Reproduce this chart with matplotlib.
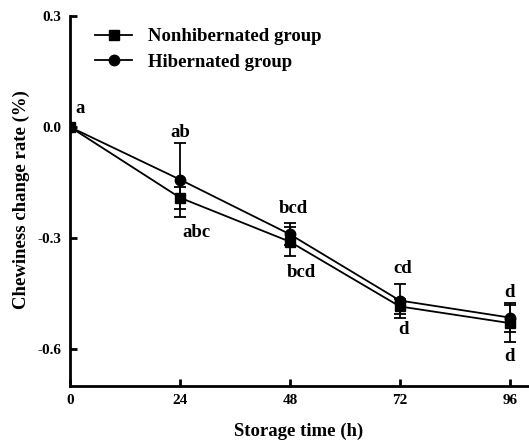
import matplotlib
matplotlib.use("Agg")
import matplotlib.pyplot as plt
from matplotlib.lines import Line2D

plt.rcParams['font.family'] = ['Liberation Serif', 'DejaVu Serif']
plt.rcParams['font.weight'] = 'bold'

time_h = [0, 24, 48, 72, 96]
nonhib = [0.0, -0.191, -0.31, -0.485, -0.53]
nonhib_err = [0.0, 0.03, 0.04, 0.02, 0.05]
hib = [0.0, -0.142, -0.29, -0.469, -0.515]
hib_err = [0.0, 0.10, 0.03, 0.046, 0.04]

labels_text = ['a', 'ab', 'abc', 'bcd', 'bcd', 'cd', 'd', 'd', 'd']
labels_x = [2.2, 24, 27.7, 48.7, 50.6, 72.7, 72.9, 96, 96]
labels_y = [0.049, -0.014, -0.284, -0.221, -0.393, -0.382, -0.548, -0.447, -0.619]

xticks = [0, 24, 48, 72, 96]
yticks = [0.3, 0.0, -0.3, -0.6]
ytick_labels = ['0.3', '0.0', '-0.3', '-0.6']

fig = plt.figure(figsize=(5.29, 4.40), dpi=100)
ax = fig.add_axes([0.1323, 0.1227, 0.866, 0.841])

ax.errorbar(time_h, nonhib, yerr=nonhib_err, color='black', marker='s', markersize=7,
            linewidth=1.3, capsize=4.5, elinewidth=1.3, capthick=1.3, zorder=3)
ax.errorbar(time_h, hib, yerr=hib_err, color='black', marker='o', markersize=7.5,
            linewidth=1.3, capsize=4.5, elinewidth=1.3, capthick=1.3, zorder=3)

for t, x, y in zip(labels_text, labels_x, labels_y):
    ax.text(x, y, t, ha='center', va='center', fontsize=13.5, fontweight='bold')

ax.set_xlim(0, 100)
ax.set_ylim(-0.7, 0.3)
ax.set_xticks(xticks)
ax.set_yticks(yticks)
ax.set_yticklabels(ytick_labels)
ax.tick_params(direction='in', width=2, length=5, labelsize=11, pad=6)
for lab in ax.get_xticklabels() + ax.get_yticklabels():
    lab.set_fontweight('bold')

for s in ['top', 'right']:
    ax.spines[s].set_visible(False)
for s in ['left', 'bottom']:
    ax.spines[s].set_linewidth(2)

ax.set_xlabel('Storage time (h)', fontsize=13.5, fontweight='bold')
ax.set_ylabel('Chewiness change rate (%)', fontsize=13.5, fontweight='bold')
ax.xaxis.set_label_coords(0.499, -0.1)
ax.yaxis.set_label_coords(-0.087, 0.505)

handles = [Line2D([0], [0], color='black', marker='s', markersize=7, linewidth=1.3),
           Line2D([0], [0], color='black', marker='o', markersize=7.5, linewidth=1.3)]
ax.legend(handles, ['Nonhibernated group', 'Hibernated group'], loc='upper left',
          bbox_to_anchor=(0.055, 0.967), frameon=False, handlelength=1.97,
          labelspacing=0.46, handletextpad=0.85, borderpad=0, borderaxespad=0,
          prop={'weight': 'bold', 'size': 13.5})

fig.savefig('out.png', dpi=100)
